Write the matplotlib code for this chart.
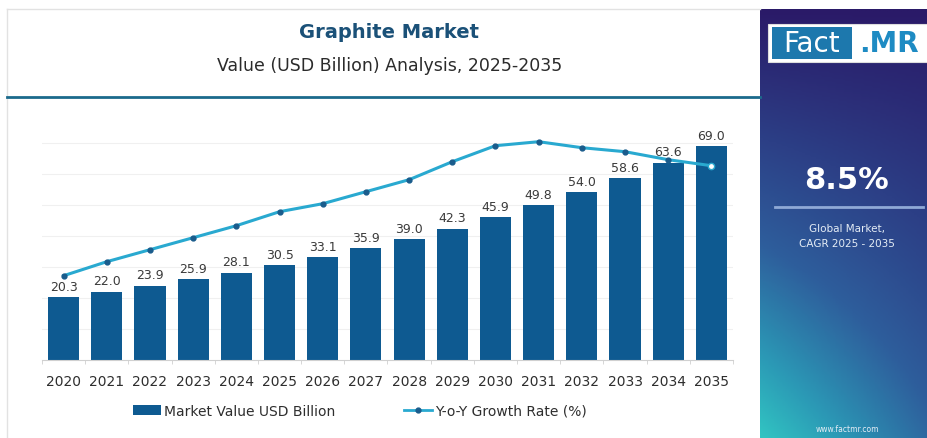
import numpy as np
import matplotlib
matplotlib.use("Agg")
import matplotlib.pyplot as plt
from matplotlib.patches import Rectangle, Patch
from matplotlib.lines import Line2D
from matplotlib.colors import LinearSegmentedColormap

years = [str(y) for y in range(2020, 2036)]
market_value = [20.3, 22.0, 23.9, 25.9, 28.1, 30.5, 33.1, 35.9,
                39.0, 42.3, 45.9, 49.8, 54.0, 58.6, 63.6, 69.0]
yoy_growth = [4.2, 4.9, 5.5, 6.1, 6.7, 7.4, 7.8, 8.4,
              9.0, 9.9, 10.7, 10.9, 10.6, 10.4, 10.0, 9.7]

cagr_label = "8.5%"
bar_color = "#0e5a91"
line_color = "#29a9d0"
dot_color = "#1a5c8c"
W, H = 928, 439

fig = plt.figure(figsize=(W / 100, H / 100), dpi=100)
fig.patch.set_facecolor("white")


def fx(px):
    return px / W


def fy(py):
    return 1 - py / H


# card outline and header rule
fig.add_artist(Line2D([fx(7), fx(7)], [fy(10), fy(439)], color="#e2e2e2", lw=1))
fig.add_artist(Line2D([fx(7), fx(760)], [fy(10), fy(10)], color="#e2e2e2", lw=1))
fig.add_artist(Line2D([fx(7), fx(760)], [fy(98), fy(98)], color="#1b6a8c", lw=2))

fig.text(fx(389), fy(32), "Graphite Market", ha="center", va="center",
         fontsize=14, fontweight="bold", color="#1b5178")
fig.text(fx(390), fy(66), "Value (USD Billion) Analysis, 2025-2035", ha="center",
         va="center", fontsize=12.5, color="#2b2b2b")

# bars
ax = fig.add_axes([fx(42), fy(360.7), fx(733 - 42), (360.7 - 112.7) / H])
x = np.arange(len(years))
ax.bar(x, market_value, width=0.72, color=bar_color, zorder=2)
for xi, v in zip(x, market_value):
    ax.annotate(f"{v:.1f}", (xi, v), xytext=(0, 3), textcoords="offset points",
                ha="center", va="bottom", fontsize=9, color="#3a3a3a", zorder=5)
ax.set_xlim(-0.47, 15.48)
ax.set_ylim(0, 80)
ax.set_yticks(range(10, 80, 10))
ax.yaxis.grid(True, color="#f0f0f0", lw=0.8, zorder=0)
ax.set_xticks(x)
ax.set_xticklabels(years, fontsize=10, color="#2e2e2e")
ax.set_xticks(np.arange(-0.5, 16, 1), minor=True)
for s in ["top", "right", "left"]:
    ax.spines[s].set_visible(False)
ax.spines["bottom"].set_color("#d0d0d0")

# growth line on a hidden second scale
ax2 = ax.twinx()
ax2.plot(x, yoy_growth, color=line_color, lw=2.2, zorder=3)
ax2.plot(x[:-1], yoy_growth[:-1], "o", color=dot_color, ms=3.5, zorder=4)
ax2.plot(x[-1], yoy_growth[-1], "o", mfc="white", mec=line_color, ms=4.5, zorder=4)
ax2.set_ylim(0, 12.4)
ax2.axis("off")

ax.tick_params(axis="x", which="major", length=0, pad=10)
ax.tick_params(axis="x", which="minor", length=3, color="#d0d0d0")
ax.tick_params(axis="y", which="both", left=False, right=False,
               labelleft=False, labelright=False)

handles = [Patch(facecolor=bar_color, label="Market Value USD Billion"),
           Line2D([], [], color=line_color, lw=2, marker="o", ms=3.5,
                  mfc=dot_color, mec=dot_color, label="Y-o-Y Growth Rate (%)")]
fig.legend(handles=handles, loc="center", bbox_to_anchor=(fx(360), fy(412)),
           ncol=2, frameon=False, fontsize=10, handlelength=2.0,
           handleheight=0.7, columnspacing=5.0, handletextpad=0.2,
           labelcolor="#2e2e2e")

# side panel with gradient
side = fig.add_axes([fx(760), 0, fx(W - 760), fy(10)])
cmap = LinearSegmentedColormap.from_list(
    "side", [(0, "#2a1a68"), (0.3, "#2c3f86"), (0.55, "#2e5e9c"),
             (0.8, "#2b97b5"), (1, "#31c4c2")])
gy, gx = np.mgrid[0:1:200j, 0:1:60j]
grad = gy * (1 - 0.4 * gx)
side.imshow(grad, cmap=cmap, aspect="auto", extent=[0, 1, 1, 0], vmin=0, vmax=1)
side.set_xlim(0, 1)
side.set_ylim(1, 0)
side.axis("off")

# logo
fig.add_artist(Rectangle((fx(768), fy(63)), fx(160), (63 - 25) / H,
                         facecolor="white", edgecolor="#dddddd", lw=0.8))
fig.add_artist(Rectangle((fx(772), fy(60)), fx(80), (60 - 28) / H,
                         facecolor="#1d78ad", edgecolor="none"))
fig.text(fx(812), fy(44), "Fact", ha="center", va="center", fontsize=20,
         color="white")
fig.text(fx(889), fy(44), ".MR", ha="center", va="center", fontsize=20,
         fontweight="bold", color="#1e8bc3")

fig.text(fx(847), fy(181), cagr_label, ha="center", va="center", fontsize=22,
         fontweight="bold", color="white")
fig.add_artist(Line2D([fx(775), fx(923)], [fy(208), fy(208)], color="#8fa9d6", lw=2))
fig.text(fx(847), fy(229), "Global Market,", ha="center", va="center",
         fontsize=7.5, color="#e4ecf5")
fig.text(fx(847), fy(244), "CAGR 2025 - 2035", ha="center", va="center",
         fontsize=7.5, color="#e4ecf5")
fig.text(fx(847), fy(430), "www.factmr.com", ha="center", va="center",
         fontsize=5.5, color="#e4ecf5")

fig.savefig("out.png", dpi=100)
